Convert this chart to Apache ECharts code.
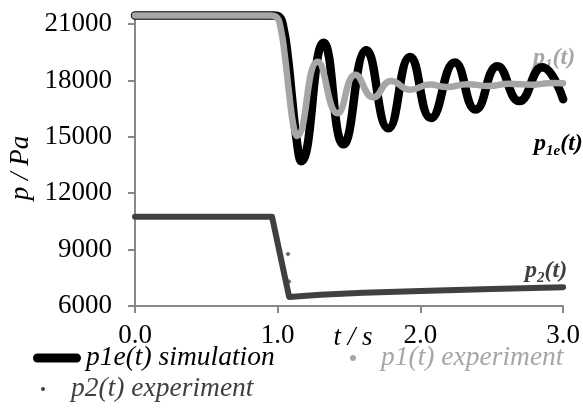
<!DOCTYPE html>
<html>
<head>
<meta charset="utf-8">
<script src="https://cdn.jsdelivr.net/npm/echarts@6/dist/echarts.min.js"></script>
<style>html,body{margin:0;padding:0;background:#fff;}#c{width:583px;height:411px;}</style>
</head>
<body>
<div id="c"></div>
<script>
// time ticks and pressure ticks
const xTicks = [0, 1, 2, 3];
const yTicks = [6000, 9000, 12000, 15000, 18000, 21000];

// p1e(t) simulation  [t (s), p (Pa)]
const p1eSim = [
  [0, 21450], [0.5, 21450], [0.97, 21450], [1.01, 21380], [1.04, 20800], [1.07, 19300],
  [1.10, 17100], [1.13, 15000], [1.165, 13700],
  [1.322, 20000], [1.461, 14600], [1.621, 19600], [1.775, 15450], [1.928, 19250],
  [2.074, 16000], [2.241, 18950], [2.387, 16450], [2.540, 18750], [2.693, 16900],
  [2.853, 18700], [3.0, 17000]
];

// p1(t) experiment
const p1Exp = [
  [0, 21450], [0.5, 21450], [0.95, 21450], [0.99, 21380], [1.02, 20800], [1.05, 19300],
  [1.08, 17300], [1.11, 15600], [1.135, 15050],
  [1.280, 19000], [1.420, 16250], [1.545, 18300], [1.670, 17100], [1.795, 17970],
  [1.928, 17500], [2.067, 17780], [2.185, 17650], [2.33, 17800], [2.48, 17700],
  [2.62, 17820], [2.78, 17770], [2.92, 17860], [3.0, 17850]
];

// p2(t) experiment
const p2Exp = [
  [0, 10750], [0.5, 10750], [0.96, 10750], [1.08, 6480], [1.3, 6600],
  [1.6, 6700], [2.0, 6800], [2.5, 6900], [3.0, 7000]
];
const p2Dots = [[1.072, 8770], [1.079, 7300]];

const serif = '"Liberation Serif", "Times New Roman", serif';
const axisGrey = '#888888';

const chart = echarts.init(document.getElementById('c'), null, {renderer: 'canvas'});

function subLabel(main, sub, tail, color) {
  return {
    text: '{a|' + main + '}{b|' + sub + '}{a|' + tail + '}',
    rich: {
      a: {font: 'bold italic 24px ' + serif, fill: color, lineHeight: 24, verticalAlign: 'top'},
      b: {font: 'bold italic 15px ' + serif, fill: color, lineHeight: 27, verticalAlign: 'bottom'}
    },
    align: 'left',
    verticalAlign: 'middle'
  };
}

const legendText = color => ({fontFamily: serif, fontStyle: 'italic', fontSize: 27.5, color: color, lineHeight: 30});

chart.setOption({
  animation: false,
  backgroundColor: '#fff',
  grid: {left: 135, right: 17, top: 18.4, bottom: 105},
  xAxis: {
    type: 'value', min: 0, max: 3, interval: 1,
    axisLine: {show: true, lineStyle: {color: axisGrey, width: 2}},
    axisTick: {show: true, length: 7, lineStyle: {color: axisGrey, width: 2}},
    splitLine: {show: false},
    axisLabel: {
      color: '#000', fontFamily: serif, fontSize: 27, margin: 16,
      formatter: v => xTicks.indexOf(v) >= 0 ? v.toFixed(1) : ''
    }
  },
  yAxis: {
    type: 'value', min: 6000, max: 21300,
    axisLine: {show: true, lineStyle: {color: axisGrey, width: 2}},
    axisTick: {show: true, length: 7, customValues: yTicks, lineStyle: {color: axisGrey, width: 2}},
    splitLine: {show: false},
    axisLabel: {
      color: '#000', fontFamily: serif, fontSize: 27, margin: 23, customValues: yTicks,
      formatter: v => String(v)
    }
  },
  legend: [
    {
      data: [{name: 'p1e(t) simulation', icon: 'path://M4.5,0H43.5A4.5,4.5,0,0,1,43.5,9H4.5A4.5,4.5,0,0,1,4.5,0Z'}],
      left: 28, top: 338, itemWidth: 48, itemHeight: 9, selectedMode: false,
      textStyle: legendText('#000')
    },
    {
      data: [{name: 'p1(t) experiment', icon: 'circle'}],
      left: 345, top: 338, itemWidth: 46, itemHeight: 6, selectedMode: false,
      textStyle: legendText('#a6a6a6')
    },
    {
      data: [{name: 'p2(t) experiment', icon: 'circle'}],
      left: 36, top: 369, itemWidth: 46, itemHeight: 4, selectedMode: false,
      textStyle: legendText('#404040')
    }
  ],
  series: [
    {
      name: 'p1e(t) simulation', type: 'line', data: p1eSim, smooth: 0.5,
      symbol: 'none', clip: false, silent: true, z: 2,
      itemStyle: {color: '#000'},
      lineStyle: {color: '#000', width: 8.5, cap: 'round', join: 'round'}
    },
    {
      name: 'p1(t) experiment', type: 'line', data: p1Exp, smooth: 0.5,
      symbol: 'none', clip: false, silent: true, z: 3,
      itemStyle: {color: '#a6a6a6'},
      lineStyle: {color: '#a6a6a6', width: 6.5, cap: 'round', join: 'round'}
    },
    {
      name: 'p2(t) experiment', type: 'line', data: p2Exp, smooth: false,
      symbol: 'none', clip: false, silent: true, z: 3,
      itemStyle: {color: '#404040'},
      lineStyle: {color: '#404040', width: 6, cap: 'round', join: 'round'}
    },
    {
      name: 'p2(t) experiment', type: 'scatter', data: p2Dots,
      symbol: 'diamond', symbolSize: 5, silent: true, z: 4,
      itemStyle: {color: '#404040'}
    }
  ],
  graphic: [
    {type: 'text', x: 21, y: 168, rotation: Math.PI / 2, silent: true,
     style: {text: 'p / Pa', font: 'italic 27px ' + serif, fill: '#000', align: 'center', verticalAlign: 'middle'}},
    {type: 'text', x: 353, y: 338, silent: true,
     style: {text: 't / s', font: 'italic 27px ' + serif, fill: '#000', align: 'center', verticalAlign: 'middle'}},
    {type: 'text', x: 533, y: 59, silent: true, style: subLabel('p', '1', '(t)', '#a6a6a6')},
    {type: 'text', x: 534, y: 145, silent: true, style: subLabel('p', '1e', '(t)', '#000')},
    {type: 'text', x: 525, y: 272, silent: true, style: subLabel('p', '2', '(t)', '#404040')}
  ]
});
</script>
</body>
</html>
